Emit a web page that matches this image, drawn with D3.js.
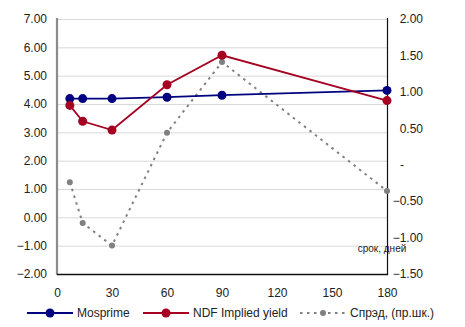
<!DOCTYPE html>
<html>
<head>
<meta charset="utf-8">
<script src="https://cdn.jsdelivr.net/npm/d3@7"></script>
<style>
  html, body { margin: 0; padding: 0; background: #fff; }
  svg { display: block; font-family: "Liberation Sans", Arial, sans-serif; }
</style>
</head>
<body>
<svg id="chart" width="465" height="327"></svg>
<script>
// Term in days
const days = [7, 14, 30, 60, 90, 180];
// Rates, % (left axis)
const mosprime = [4.19, 4.19, 4.19, 4.24, 4.31, 4.48];
const ndfYield = [3.95, 3.39, 3.08, 4.68, 5.72, 4.12];
// Spread, p.p. (right axis)
const spread = [-0.24, -0.80, -1.11, 0.44, 1.41, -0.36];

const xTicks = [0, 30, 60, 90, 120, 150, 180];
const leftTicks = [-2, -1, 0, 1, 2, 3, 4, 5, 6, 7];
const rightTicks = [-1.5, -1, -0.5, 0, 0.5, 1, 1.5, 2];

const seriesNames = ["Mosprime", "NDF Implied yield", "Спрэд, (пр.шк.)"];
const colors = { mosprime: "#000080", ndf: "#A50021", spread: "#808080" };
const spreadDash = "2.5,4.5";

const svg = d3.select("#chart");
const m = { left: 57, right: 387, top: 19, bottom: 274 };

const x = d3.scaleLinear().domain([0, 180]).range([m.left, m.right]);
const yL = d3.scaleLinear().domain([-2, 7]).range([m.bottom, m.top]);
const yR = d3.scaleLinear().domain([-1.5, 2]).range([m.bottom, m.top]);

// Horizontal gridlines
svg.append("g").selectAll("line").data(leftTicks).join("line")
  .attr("x1", m.left).attr("x2", m.right)
  .attr("y1", d => yL(d) + 0.5).attr("y2", d => yL(d) + 0.5)
  .attr("stroke", "#d9d9d9").attr("stroke-width", 1);

// Left axis
const fmt2 = d3.format(".2f");
const gL = svg.append("g").attr("transform", `translate(${m.left},0)`)
  .call(d3.axisLeft(yL).tickValues(leftTicks).tickFormat(fmt2).tickSize(0).tickPadding(10));
gL.select(".domain").remove();
gL.selectAll("text").attr("font-size", 12).attr("fill", "#222").attr("font-family", "Liberation Sans, Arial, sans-serif");

// Right axis (zero shown as a dash)
const gR = svg.append("g").attr("transform", `translate(${m.right},0)`)
  .call(d3.axisRight(yR).tickValues(rightTicks)
    .tickFormat(d => d === 0 ? "-" : fmt2(d)).tickSize(0).tickPadding(13));
gR.select(".domain").remove();
gR.selectAll("text").attr("font-size", 12).attr("fill", "#222").attr("font-family", "Liberation Sans, Arial, sans-serif")
  .attr("text-anchor", "end").attr("dx", 23);
gR.selectAll("text").filter(d => d === 0).attr("text-anchor", "start").attr("dx", 0);

// Bottom axis
const gB = svg.append("g").attr("transform", `translate(0,${m.bottom})`)
  .call(d3.axisBottom(x).tickValues(xTicks).tickSize(0).tickPadding(14));
gB.select(".domain").remove();
gB.selectAll("text").attr("font-size", 12).attr("fill", "#222").attr("font-family", "Liberation Sans, Arial, sans-serif");

// Axis lines
svg.append("line").attr("x1", m.left).attr("x2", m.left).attr("y1", m.top - 1).attr("y2", m.bottom + 1)
  .attr("stroke", "#8c8c8c").attr("stroke-width", 2.2);
svg.append("line").attr("x1", m.right + 0.5).attr("x2", m.right + 0.5).attr("y1", m.top - 1).attr("y2", m.bottom + 1)
  .attr("stroke", "#111").attr("stroke-width", 1.2);
svg.append("line").attr("x1", m.left).attr("x2", m.right + 1).attr("y1", m.bottom + 0.5).attr("y2", m.bottom + 0.5)
  .attr("stroke", "#111").attr("stroke-width", 1.4);

// Axis title
svg.append("text").attr("x", 382).attr("y", 252).attr("text-anchor", "middle")
  .attr("font-size", 10).attr("fill", "#222").text("срок, дней");

const dataOf = vals => days.map((d, i) => ({ d, v: vals[i] }));

// Spread (right axis)
const lineR = d3.line().x(p => x(p.d)).y(p => yR(p.v));
svg.append("path").datum(dataOf(spread)).attr("d", lineR)
  .attr("fill", "none").attr("stroke", colors.spread).attr("stroke-width", 2)
  .attr("stroke-dasharray", spreadDash);
svg.append("g").selectAll("circle").data(dataOf(spread)).join("circle")
  .attr("cx", p => x(p.d)).attr("cy", p => yR(p.v)).attr("r", 3).attr("fill", colors.spread);

// Rate lines (left axis)
const lineL = d3.line().x(p => x(p.d)).y(p => yL(p.v));
[[mosprime, colors.mosprime], [ndfYield, colors.ndf]].forEach(([vals, c]) => {
  svg.append("path").datum(dataOf(vals)).attr("d", lineL)
    .attr("fill", "none").attr("stroke", c).attr("stroke-width", 1.8);
  svg.append("g").selectAll("circle").data(dataOf(vals)).join("circle")
    .attr("cx", p => x(p.d)).attr("cy", p => yL(p.v)).attr("r", 4.5).attr("fill", c);
});

// Legend
const legY = 313;
const legend = [
  { name: seriesNames[0], c: colors.mosprime, x0: 27, dash: null, r: 4.5 },
  { name: seriesNames[1], c: colors.ndf, x0: 143, dash: null, r: 4.5 },
  { name: seriesNames[2], c: colors.spread, x0: 300, dash: spreadDash, r: 3 }
];
legend.forEach(l => {
  const g = svg.append("g");
  g.append("line").attr("x1", l.x0).attr("x2", l.x0 + 46).attr("y1", legY).attr("y2", legY)
    .attr("stroke", l.c).attr("stroke-width", l.dash ? 2 : 1.8).attr("stroke-dasharray", l.dash);
  g.append("circle").attr("cx", l.x0 + 23).attr("cy", legY).attr("r", l.r).attr("fill", l.c);
  g.append("text").attr("x", l.x0 + 50).attr("y", legY).attr("dy", "0.35em")
    .attr("font-size", 12).attr("fill", "#222").text(l.name);
});
</script>
</body>
</html>
